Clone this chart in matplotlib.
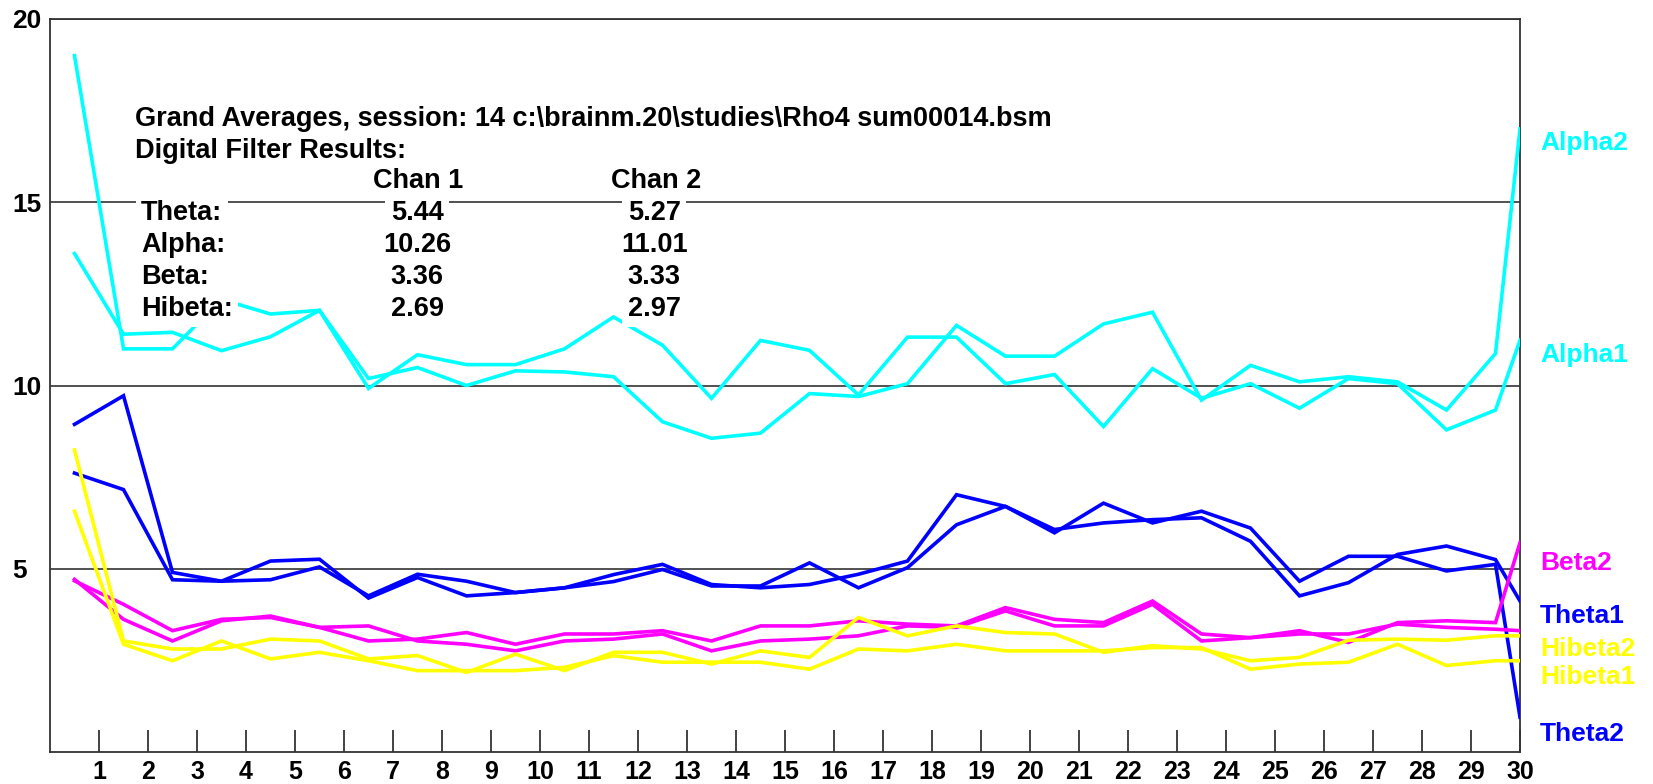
import numpy as np
import matplotlib.pyplot as plt

plt.rcParams['font.family'] = ['Liberation Sans', 'DejaVu Sans']

# sample positions: middle of each bin, last sample on the right edge
x_pos = np.append(np.arange(0.5, 30.0, 1.0), 30.0)

alpha1 = [13.6, 11.4, 11.45, 10.95, 11.33, 12.05, 9.92, 10.84, 10.57, 10.57,
          11.0, 11.87, 11.1, 9.65, 11.23, 10.96, 9.74, 11.32, 11.32, 10.05,
          10.3, 8.88, 10.46, 9.65, 10.05, 9.38, 10.19, 10.05, 8.79, 9.33, 11.23]
alpha2 = [19.0, 11.0, 11.0, 12.35, 11.95, 12.05, 10.19, 10.49, 10.0, 10.4,
          10.37, 10.24, 9.01, 8.56, 8.7, 9.78, 9.7, 10.05, 11.64, 10.8,
          10.8, 11.68, 12.0, 9.6, 10.55, 10.1, 10.24, 10.1, 9.33, 10.87, 17.0]
theta1 = [7.61, 7.16, 4.7, 4.66, 5.21, 5.26, 4.2, 4.76, 4.26, 4.35,
          4.48, 4.65, 4.98, 4.53, 4.53, 5.16, 4.48, 5.03, 6.2, 6.7,
          6.07, 6.25, 6.34, 6.39, 5.75, 4.26, 4.62, 5.39, 5.62, 5.25, 4.12]
theta2 = [8.94, 9.72, 4.9, 4.66, 4.7, 5.05, 4.26, 4.85, 4.66, 4.35,
          4.48, 4.84, 5.12, 4.57, 4.48, 4.57, 4.85, 5.21, 7.02, 6.7,
          5.98, 6.79, 6.25, 6.57, 6.11, 4.66, 5.34, 5.34, 4.94, 5.12, 0.95]
beta1 = [4.67, 4.03, 3.31, 3.62, 3.67, 3.40, 3.44, 3.03, 2.94, 2.76,
         3.03, 3.08, 3.22, 2.76, 3.03, 3.08, 3.17, 3.44, 3.40, 3.85,
         3.44, 3.44, 4.03, 3.03, 3.12, 3.22, 3.22, 3.49, 3.40, 3.35, 3.31]
beta2 = [4.71, 3.62, 3.03, 3.58, 3.71, 3.40, 3.03, 3.08, 3.26, 2.94,
         3.22, 3.22, 3.31, 3.03, 3.44, 3.44, 3.58, 3.49, 3.44, 3.94,
         3.62, 3.53, 4.12, 3.22, 3.12, 3.31, 2.99, 3.53, 3.58, 3.53, 5.71]
hibeta1 = [6.57, 2.94, 2.49, 3.03, 2.54, 2.72, 2.49, 2.22, 2.22, 2.22,
           2.31, 2.63, 2.45, 2.45, 2.45, 2.26, 2.81, 2.76, 2.94, 2.76,
           2.76, 2.76, 2.85, 2.85, 2.26, 2.40, 2.45, 2.94, 2.36, 2.49, 2.49]
hibeta2 = [8.24, 3.03, 2.81, 2.81, 3.08, 3.03, 2.54, 2.63, 2.17, 2.67,
           2.22, 2.72, 2.72, 2.40, 2.76, 2.58, 3.67, 3.17, 3.44, 3.26,
           3.22, 2.72, 2.90, 2.81, 2.49, 2.58, 3.05, 3.08, 3.05, 3.17, 3.17]

CYAN, BLUE, MAGENTA, YELLOW = '#00FFFF', '#0000FF', '#FF00FF', '#FFFF00'

series = [
    (theta1, BLUE), (theta2, BLUE),
    (alpha1, CYAN), (alpha2, CYAN),
    (beta1, MAGENTA), (beta2, MAGENTA),
    (hibeta1, YELLOW), (hibeta2, YELLOW),
]

# end labels on the right, with their vertical spots
end_labels = ['Alpha2', 'Alpha1', 'Beta2', 'Theta1', 'Hibeta2', 'Hibeta1', 'Theta2']
end_colors = [CYAN, CYAN, MAGENTA, BLUE, YELLOW, YELLOW, BLUE]
end_label_y = [16.63, 10.82, 5.16, 3.72, 2.80, 2.04, 0.49]

# filter results table
header1 = 'Grand Averages, session: 14 c:\\brainm.20\\studies\\Rho4 sum00014.bsm'
header2 = 'Digital Filter Results:'
col_titles = ['Chan 1', 'Chan 2']
band_names = ['Theta:', 'Alpha:', 'Beta:', 'Hibeta:']
chan1_vals = ['5.44', '10.26', '3.36', '2.69']
chan2_vals = ['5.27', '11.01', '3.33', '2.97']

fig = plt.figure(figsize=(16.53, 7.84), dpi=100)
ax = fig.add_axes([50 / 1653, 32 / 784, 1470 / 1653, 733 / 784])

for vals, col in series:
    ax.plot(x_pos, vals, color=col, lw=2.6, solid_joinstyle='miter', zorder=3)

ax.set_xlim(0, 30)
ax.set_ylim(0, 20)

ax.set_xticks(range(1, 31))
ax.set_xticklabels([str(i) for i in range(1, 31)])
ax.tick_params(axis='x', direction='in', length=16, width=1.2, color='#222222',
               pad=6, labelsize=18)
ax.set_yticks([5, 10, 15, 20])
ax.set_yticklabels(['5', '10', '15', '20'])
ax.tick_params(axis='y', length=0, pad=27, labelsize=19)
for lab in ax.get_yticklabels():
    lab.set_horizontalalignment('left')
for lab in ax.get_xticklabels() + ax.get_yticklabels():
    lab.set_fontweight('bold')

ax.grid(axis='y', color='#333333', lw=1.2, zorder=1)
for sp in ax.spines.values():
    sp.set_color('#333333')
    sp.set_linewidth(1.3)

for name, col, yv in zip(end_labels, end_colors, end_label_y):
    ax.text(30.41, yv, name, color=col, fontsize=19, fontweight='bold',
            va='center', ha='left', clip_on=False)

box = dict(boxstyle='square,pad=0.2', facecolor='white', edgecolor='none')
txt = dict(fontsize=19.5, fontweight='bold', va='center', zorder=5, bbox=box)

ax.text(1.73, 17.28, header1, ha='left', **txt)
ax.text(1.73, 16.41, header2, ha='left', **txt)
ax.text(7.51, 15.57, col_titles[0], ha='center', **txt)
ax.text(12.37, 15.57, col_titles[1], ha='center', **txt)
row_y = [14.70, 13.83, 12.96, 12.09]
for name, v1, v2, yv in zip(band_names, chan1_vals, chan2_vals, row_y):
    ax.text(1.86, yv, name, ha='left', **txt)
    ax.text(7.49, yv, v1, ha='center', **txt)
    ax.text(12.33, yv, v2, ha='center', **txt)

fig.savefig('out.png', dpi=100, facecolor='white')
